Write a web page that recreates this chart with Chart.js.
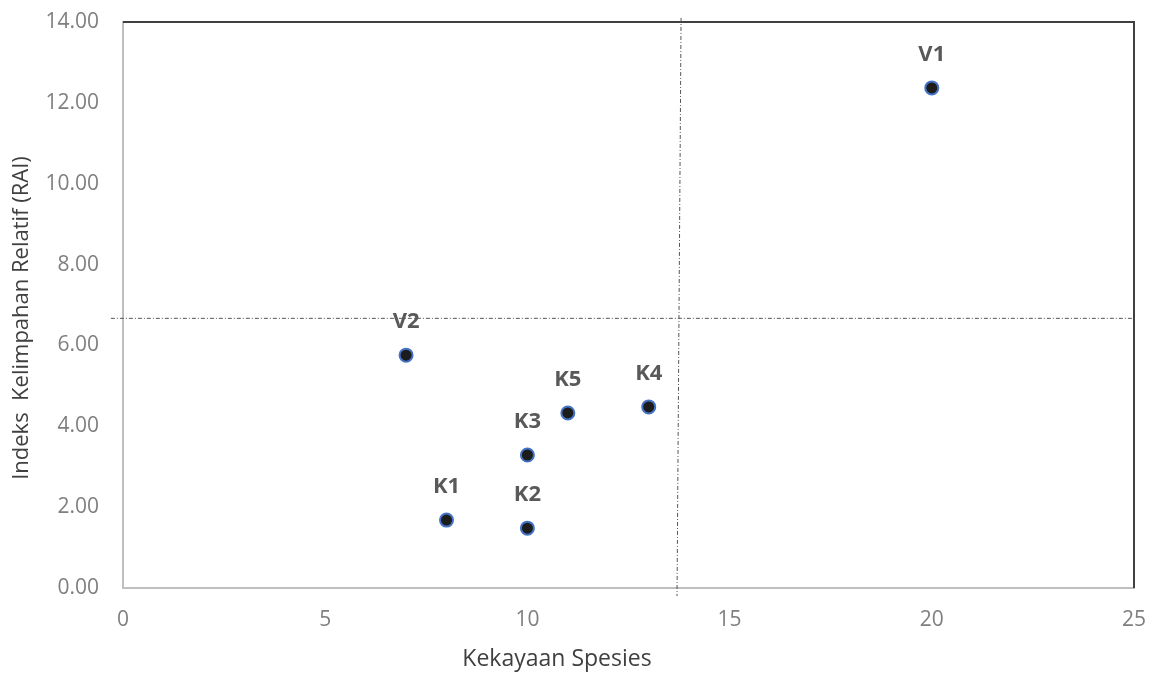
<!DOCTYPE html>
<html>
<head>
<meta charset="utf-8">
<script src="https://cdn.jsdelivr.net/npm/chart.js@4/dist/chart.umd.min.js"></script>
<style>
  html, body { margin: 0; padding: 0; background: #fff; overflow: hidden; }
  #wrap { width: 1149px; height: 673px; position: relative; }
</style>
</head>
<body>
<div id="wrap"><canvas id="grafico"></canvas></div>
<script>
// Dados
const nomes = ['V1', 'V2', 'K1', 'K2', 'K3', 'K5', 'K4'];
const kekayaan = [20, 7, 8, 10, 10, 11, 13];
const rai = [12.37, 5.76, 1.68, 1.48, 3.29, 4.33, 4.48];

// Linhas de referência (pontilhadas)
const garisVertikalX = [13.80, 13.70];
const garisVertikalY = [14.1, -0.2];
const garisHorizontalX = [-0.3, 25];
const garisHorizontalY = [6.67, 6.67];

const xTicks = [0, 5, 10, 15, 20, 25];

const judulX = 'Kekayaan Spesies';
const judulY = 'Indeks  Kelimpahan Relatif (RAI)';

const fonte = "'Open Sans', 'Liberation Sans', sans-serif";

// Rótulos acima dos pontos
const rotulosPlugin = {
  id: 'rotulos',
  afterDatasetsDraw(chart) {
    const ctx = chart.ctx;
    const meta = chart.getDatasetMeta(0);
    ctx.save();
    ctx.font = 'bold 22px ' + fonte;
    ctx.fillStyle = '#595959';
    ctx.textAlign = 'center';
    ctx.textBaseline = 'middle';
    meta.data.forEach((pt, i) => {
      ctx.fillText(nomes[i], pt.x, pt.y - 33);
    });
    ctx.restore();
  }
};

// Moldura superior e direita + títulos dos eixos
const molduraPlugin = {
  id: 'moldura',
  beforeDatasetsDraw(chart) {
    const a = chart.chartArea;
    const ctx = chart.ctx;
    ctx.save();
    ctx.strokeStyle = '#404040';
    ctx.lineWidth = 2;
    ctx.beginPath();
    ctx.moveTo(a.left, a.top);
    ctx.lineTo(a.right, a.top);
    ctx.lineTo(a.right, a.bottom);
    ctx.stroke();

    // títulos (no Excel original não ficam centralizados no gráfico)
    ctx.fillStyle = '#404040';
    ctx.textAlign = 'center';
    ctx.textBaseline = 'middle';
    ctx.font = '23px ' + fonte;
    ctx.fillText(judulX, a.left + 434, chart.height - 14);
    ctx.translate(22, a.top + 296);
    ctx.rotate(-Math.PI / 2);
    ctx.font = '22px ' + fonte;
    ctx.fillText(judulY, 0, 0);
    ctx.restore();
  }
};

const ctx = document.getElementById('grafico').getContext('2d');
new Chart(ctx, {
  type: 'scatter',
  data: {
    datasets: [
      {
        label: 'Stasiun',
        data: kekayaan.map((x, i) => ({ x: x, y: rai[i] })),
        pointRadius: 6.5,
        pointHoverRadius: 6.5,
        pointBackgroundColor: '#1c1c1c',
        pointBorderColor: '#4472C4',
        pointBorderWidth: 2,
        order: 0
      },
      {
        type: 'line',
        data: garisVertikalX.map((x, i) => ({ x: x, y: garisVertikalY[i] })),
        borderColor: '#555555',
        borderWidth: 1,
        borderDash: [4, 2, 1, 2],
        pointRadius: 0,
        clip: false,
        order: 1
      },
      {
        type: 'line',
        data: garisHorizontalX.map((x, i) => ({ x: x, y: garisHorizontalY[i] })),
        borderColor: '#555555',
        borderWidth: 1,
        borderDash: [4, 2, 1, 2],
        pointRadius: 0,
        clip: false,
        order: 1
      }
    ]
  },
  options: {
    responsive: true,
    maintainAspectRatio: false,
    animation: false,
    events: [],
    layout: { padding: { top: 22, right: 15, left: 0, bottom: 0 } },
    plugins: {
      legend: { display: false },
      tooltip: { enabled: false }
    },
    scales: {
      x: {
        type: 'linear',
        min: 0,
        max: 25,
        afterBuildTicks: (s) => { s.ticks = xTicks.map(v => ({ value: v })); },
        afterFit: (s) => {
          s.height = 85;
          s.paddingLeft = 0;
          s.paddingRight = 0;
        },
        grid: { display: false, drawTicks: false },
        border: { display: true, color: '#bfbfbf', width: 2 },
        ticks: {
          padding: 19,
          color: '#7f7f7f',
          font: { family: fonte, size: 21 }
        }
      },
      y: {
        type: 'linear',
        min: 0,
        max: 14,
        afterFit: (s) => {
          s.width = 123;
          s.paddingTop = 0;
          s.paddingBottom = 0;
        },
        grid: { display: false, drawTicks: false },
        border: { display: true, color: '#bfbfbf', width: 2 },
        ticks: {
          stepSize: 2,
          padding: 24,
          color: '#7f7f7f',
          font: { family: fonte, size: 21 },
          callback: (v) => Number(v).toFixed(2)
        }
      }
    }
  },
  plugins: [molduraPlugin, rotulosPlugin]
});
</script>
</body>
</html>
